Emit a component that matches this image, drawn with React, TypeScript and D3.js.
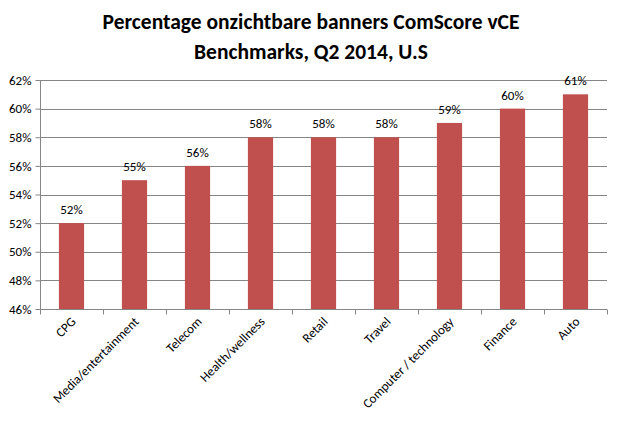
import React, { useEffect, useRef } from 'react';
import * as d3 from 'd3';

const categories = ['CPG', 'Media/entertainment', 'Telecom', 'Health/wellness', 'Retail', 'Travel', 'Computer / technology', 'Finance', 'Auto'];
const values = [52, 55, 56, 58, 58, 58, 59, 60, 61];
const yTicks = [46, 48, 50, 52, 54, 56, 58, 60, 62];
const titleLines = ['Percentage onzichtbare banners ComScore vCE', 'Benchmarks, Q2 2014, U.S'];

const width = 622;
const height = 425;
const margin = { top: 80, right: 15, bottom: 116, left: 40 };

const App: React.FC = () => {
    const svgRef = useRef<SVGSVGElement | null>(null);

    useEffect(() => {
        if (!svgRef.current) return;
        const svg = d3.select(svgRef.current);
        svg.selectAll('*').remove();

        const font = 'Carlito, Calibri, "Open Sans", sans-serif';
        const innerW = width - margin.left - margin.right;
        const innerH = height - margin.top - margin.bottom;

        const x = d3.scaleBand().domain(categories).range([0, innerW]).paddingInner(0.6).paddingOuter(0.3);
        const xEdge = d3.scaleLinear().domain([0, categories.length]).range([0, innerW]);
        const y = d3.scaleLinear().domain([46, 62]).range([innerH, 0]);

        // title
        svg.append('g')
            .selectAll('text')
            .data(titleLines)
            .enter()
            .append('text')
            .attr('x', width / 2)
            .attr('y', (_, i) => 29 + i * 30)
            .attr('text-anchor', 'middle')
            .attr('font-family', font)
            .attr('font-weight', 'bold')
            .attr('font-size', 21.5)
            .text((d) => d);

        const g = svg.append('g').attr('transform', `translate(${margin.left},${margin.top})`);

        // gridlines
        g.selectAll('line.grid')
            .data(yTicks.slice(1))
            .enter()
            .append('line')
            .attr('class', 'grid')
            .attr('x1', 0)
            .attr('x2', innerW)
            .attr('y1', (d) => Math.round(y(d)) + 0.5)
            .attr('y2', (d) => Math.round(y(d)) + 0.5)
            .attr('stroke', '#868686')
            .attr('stroke-width', 1);

        // y axis
        const yAxis = g.append('g')
            .attr('transform', 'translate(0.5,0)')
            .call(d3.axisLeft(y).tickValues(yTicks).tickSize(5).tickFormat((d) => `${d}%`));
        yAxis.select('.domain').attr('stroke', '#868686').attr('d', `M0,${innerH}V0`);
        yAxis.selectAll('.tick line').attr('stroke', '#868686');
        yAxis.selectAll('.tick text').attr('font-family', font).attr('font-size', 13).attr('fill', '#000').attr('x', -9);

        // bars
        g.selectAll('rect.bar')
            .data(values)
            .enter()
            .append('rect')
            .attr('class', 'bar')
            .attr('x', (_, i) => x(categories[i]) as number)
            .attr('width', x.bandwidth())
            .attr('y', (d) => y(d))
            .attr('height', (d) => innerH - y(d))
            .attr('fill', '#C0504D');

        // value labels
        g.selectAll('text.val')
            .data(values)
            .enter()
            .append('text')
            .attr('class', 'val')
            .attr('x', (_, i) => (x(categories[i]) as number) + x.bandwidth() / 2)
            .attr('y', (d) => y(d) - 9)
            .attr('text-anchor', 'middle')
            .attr('font-family', font)
            .attr('font-size', 13)
            .text((d) => `${d}%`);

        // x axis line + ticks at band edges
        const xAxisG = g.append('g').attr('transform', `translate(0,${innerH + 0.5})`);
        xAxisG.append('line').attr('x1', 0).attr('x2', innerW).attr('stroke', '#868686');
        xAxisG.selectAll('line.tk')
            .data(d3.range(categories.length + 1))
            .enter()
            .append('line')
            .attr('class', 'tk')
            .attr('x1', (d) => Math.round(xEdge(d)) + 0.5)
            .attr('x2', (d) => Math.round(xEdge(d)) + 0.5)
            .attr('y1', 0)
            .attr('y2', 5)
            .attr('stroke', '#868686');

        // rotated category labels
        xAxisG.selectAll('text.cat')
            .data(categories)
            .enter()
            .append('text')
            .attr('class', 'cat')
            .attr('transform', (d) => `translate(${(x(d) as number) + x.bandwidth() / 2 + 5},13) rotate(-45)`)
            .attr('text-anchor', 'end')
            .attr('font-family', font)
            .attr('font-size', 13)
            .text((d) => d);
    }, []);

    return <svg ref={svgRef} width={width} height={height} style={{ display: 'block', margin: -8 }}></svg>;
};

export default App;
